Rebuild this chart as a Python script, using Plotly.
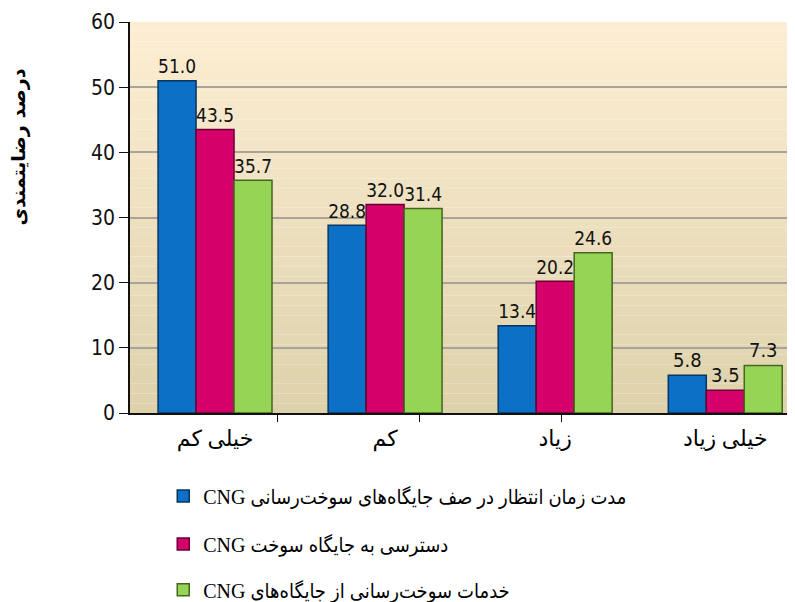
import plotly.graph_objects as go

categories = ["خیلی کم", "کم", "زیاد", "خیلی زیاد"]
series_names = [
    "مدت زمان انتظار در صف جایگاه‌های سوخت‌رسانی CNG",
    "دسترسی به جایگاه سوخت CNG",
    "خدمات سوخت‌رسانی از جایگاه‌های CNG",
]
waiting_time = [51.0, 28.8, 13.4, 5.8]
access = [43.5, 32.0, 20.2, 3.5]
services = [35.7, 31.4, 24.6, 7.3]
y_ticks = [0, 10, 20, 30, 40, 50, 60]
y_title = "درصد رضایتمندی"

values = [waiting_time, access, services]
fills = ["#0B70C6", "#D6006A", "#95D455"]
edges = ["#0A3560", "#6A0034", "#45661E"]

num_font = "DejaVu Sans Condensed, Liberation Sans Narrow, sans-serif"
fa_font = "Liberation Serif, DejaVu Sans Condensed, DejaVu Sans, serif"
cat_font = "Liberation Serif, DejaVu Sans, serif"

fig = go.Figure()
legend_ids = ["legend", "legend2", "legend3"]
for name, vals, fc, ec, lg in zip(series_names, values, fills, edges, legend_ids):
    fig.add_trace(go.Bar(
        x=categories, y=vals, name="\u202b" + name + "\u202c",
        marker=dict(color=fc, line=dict(color=ec, width=1.5)),
        text=[f"{v:.1f}" for v in vals], textposition="outside",
        textfont=dict(family=num_font, size=20, color="#111"),
        cliponaxis=False, legend=lg,
    ))

# background gradient bands in the plot area
top = (253, 238, 211)
bot = (222, 210, 172)
n = 40
shapes = []
for i in range(n):
    t = i / (n - 1)
    c = tuple(int(round(top[k] + (bot[k] - top[k]) * t)) for k in range(3))
    shapes.append(dict(type="rect", xref="x domain", yref="y domain",
                       x0=0, x1=1, y0=1 - (i + 1) / n, y1=1 - i / n,
                       fillcolor="rgb(%d,%d,%d)" % c, line=dict(width=0), layer="below"))

leg_common = dict(font=dict(family=fa_font, size=20, color="#000"),
                  bgcolor="rgba(0,0,0,0)", xanchor="left", yanchor="middle",
                  itemwidth=30, x=0.05)

# page body has an 8px margin, so the figure is sized to the remaining viewport
fig.update_layout(
    width=787, height=594,
    margin=dict(l=122, r=0, t=14, b=189, autoexpand=False),
    paper_bgcolor="white", plot_bgcolor="rgba(0,0,0,0)",
    barmode="group", bargap=0.33, bargroupgap=0,
    shapes=shapes,
    showlegend=True,
    legend=dict(y=-0.212, **leg_common),
    legend2=dict(y=-0.335, **leg_common),
    legend3=dict(y=-0.452, **leg_common),
    xaxis=dict(type="category", range=[-0.5, 3.41], showgrid=False,
               showline=True, linecolor="#111", linewidth=2, ticks="",
               tickfont=dict(family=cat_font, size=22, color="#000"),
               ticklabelstandoff=5, automargin=False),
    xaxis2=dict(overlaying="x", anchor="y", range=[-0.5, 3.41], showgrid=False,
                showticklabels=False, ticks="outside", ticklen=8, tickcolor="#111",
                tickvals=[0.37, 1.205, 2.04], zeroline=False, showline=False),
    yaxis=dict(range=[0, 60], tickvals=y_ticks, showgrid=True, gridcolor="#A8A49C",
               gridwidth=1.5, showline=True, linecolor="#111", linewidth=1.5,
               ticks="outside", ticklen=9, tickcolor="#111", zeroline=False,
               automargin=False,
               tickfont=dict(family=num_font, size=21, color="#111")),
    annotations=[dict(text="<b>" + y_title + "</b>", xref="paper", yref="paper",
                      x=-0.168, y=0.68, xanchor="center", yanchor="middle",
                      textangle=-90, showarrow=False,
                      font=dict(family="DejaVu Sans, sans-serif", size=19, color="#000"))],
)
# invisible trace to activate xaxis2
fig.add_trace(go.Scatter(x=[0], y=[0], xaxis="x2", mode="markers",
                         marker=dict(opacity=0), showlegend=False, hoverinfo="skip"))

fig.write_html("out.html")
